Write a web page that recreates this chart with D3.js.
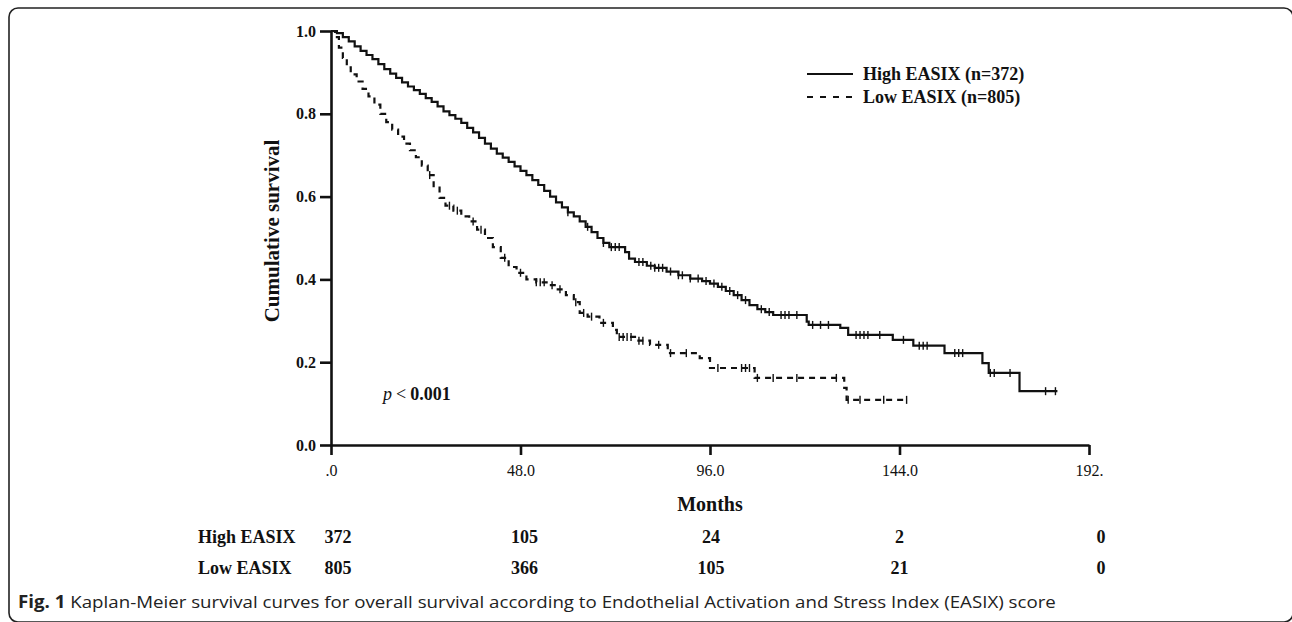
<!DOCTYPE html>
<html>
<head>
<meta charset="utf-8">
<title>Kaplan-Meier EASIX</title>
<script src="https://cdn.jsdelivr.net/npm/d3@7"></script>
<style>
    body { margin: 0; background: #fff; }
    svg { display: block; }
</style>
</head>
<body>
<div id="chart"></div>
<script>
// DATA ___________________________________________________________
// High EASIX (solid) - step points (months, survival)
const HIGH_T = [0, 1.5, 3, 4.5, 6, 7.5, 9, 10.5, 12, 13.5, 15, 16.5, 18, 19.5, 21, 22.5, 24, 25.5, 27, 28.5,
    30, 31.5, 33, 34.5, 36, 37.5, 39, 40.5, 42, 43.5, 45, 46.5, 48, 49.5, 51, 52.5, 54, 55.5, 57, 58.5,
    60, 61.5, 63, 64.5, 66, 67.5, 69, 70.5, 74.5, 75.5, 77, 80, 82, 85, 88, 91, 94, 96, 98, 100,
    102, 104, 106, 108, 110, 112, 120.5, 121, 129, 131, 142.3, 147.5, 155.4, 165, 166.6, 174.4, 184];
const HIGH_S = [1.000, 0.995, 0.985, 0.975, 0.963, 0.952, 0.942, 0.932, 0.920, 0.908, 0.897, 0.887, 0.876, 0.866, 0.857, 0.848, 0.838, 0.829, 0.818, 0.806,
    0.797, 0.788, 0.778, 0.766, 0.755, 0.742, 0.728, 0.716, 0.704, 0.694, 0.684, 0.673, 0.662, 0.652, 0.640, 0.628, 0.614, 0.600, 0.586, 0.574,
    0.562, 0.552, 0.540, 0.527, 0.514, 0.500, 0.488, 0.478, 0.466, 0.450, 0.442, 0.433, 0.428, 0.419, 0.410, 0.402, 0.396, 0.390, 0.382, 0.372,
    0.362, 0.350, 0.338, 0.328, 0.321, 0.314, 0.298, 0.290, 0.283, 0.266, 0.254, 0.240, 0.222, 0.198, 0.174, 0.130, 0.130];
const HIGH_CENSOR = [60, 65, 69, 71, 72, 73, 78, 79, 81, 82, 83, 84, 86, 88, 89, 91, 93, 95, 97, 99, 101, 103, 105,
    109, 111, 114, 115, 116, 118, 122, 124, 126, 133, 134, 135, 136, 139, 145, 149, 150, 151, 158, 159, 160,
    167, 168, 172, 181, 183.5];

// Low EASIX (dashed)
const LOW_T = [0, 1, 2, 3, 4, 5, 6.5, 8, 9.5, 11, 12.5, 14, 15.5, 17, 18.5, 20, 21.5, 23, 24.5, 26,
    27.5, 29, 31, 33, 35, 37, 39, 41, 43, 45, 47, 49.5, 52, 55, 57, 59.5, 61.5, 63, 65, 68,
    71.4, 72.4, 77, 80.8, 85.3, 93.4, 96, 107.3, 130, 130.6, 145.8];
const LOW_S = [1.000, 0.985, 0.960, 0.935, 0.912, 0.895, 0.878, 0.860, 0.842, 0.822, 0.800, 0.780, 0.762, 0.745, 0.728, 0.712, 0.695, 0.675, 0.652, 0.625,
    0.597, 0.578, 0.566, 0.552, 0.540, 0.520, 0.500, 0.478, 0.452, 0.430, 0.416, 0.400, 0.393, 0.386, 0.376, 0.362, 0.345, 0.319, 0.310, 0.295,
    0.278, 0.261, 0.252, 0.242, 0.222, 0.210, 0.186, 0.162, 0.138, 0.109, 0.109];
const LOW_CENSOR = [25, 30, 32, 36, 38, 44, 48, 52, 53, 54, 56, 58, 62, 64, 66, 69, 73, 74, 75, 76, 78, 79, 83, 86,
    90, 98, 104, 105, 106, 108, 112, 118, 128, 131, 134, 140, 145.8];

// Axis ticks
const X_TICKS = [0, 48, 96, 144, 192];
const X_TICK_LABELS = ['.0', '48.0', '96.0', '144.0', '192.'];
const Y_TICKS = [0, 0.2, 0.4, 0.6, 0.8, 1.0];
const Y_TICK_LABELS = ['0.0', '0.2', '0.4', '0.6', '0.8', '1.0'];

// Numbers at risk
const RISK_GROUPS = ['High EASIX', 'Low EASIX'];
const HIGH_RISK = [372, 105, 24, 2, 0];
const LOW_RISK = [805, 366, 105, 21, 0];

const LEGEND_LABELS = ['High EASIX (n=372)', 'Low EASIX (n=805)'];
//________________________________________________________________________________________


// CONSTANTS ___________________________________________________________
const W = 1292, H = 622;
const SERIF = '"Liberation Serif", "Times New Roman", serif';
const INK = '#111';
const RISK_DX = [7, 4, 1, 0, 12]; // the risk numbers sit a bit right of the ticks
//________________________________________________________________________________________


const svg = d3.select('#chart').append('svg')
    .attr('width', W)
    .attr('height', H)
    .style('font-family', SERIF);

// Rounded figure frame (right and bottom edges fall just outside the picture)
svg.append('rect')
    .attr('x', 9).attr('y', 8)
    .attr('width', 1284).attr('height', 614)
    .attr('rx', 9)
    .attr('fill', 'none')
    .attr('stroke', '#222')
    .attr('stroke-width', 1.6);

// Scales
const x = d3.scaleLinear().domain([0, 192]).range([331, 1089]);
const y = d3.scaleLinear().domain([0, 1]).range([445, 31]);

// X axis
const xAxis = svg.append('g')
    .attr('transform', `translate(0,${y(0)})`)
    .call(d3.axisBottom(x).tickValues(X_TICKS)
        .tickFormat(function(d, i) { return X_TICK_LABELS[i]; })
        .tickSize(10).tickSizeOuter(0).tickPadding(10));

// Y axis
const yAxis = svg.append('g')
    .attr('transform', `translate(${x(0)},0)`)
    .call(d3.axisLeft(y).tickValues(Y_TICKS)
        .tickFormat(function(d, i) { return Y_TICK_LABELS[i]; })
        .tickSize(11).tickSizeOuter(0).tickPadding(4));

svg.selectAll('.domain, .tick line')
    .attr('stroke', INK)
    .attr('stroke-width', 2.6);
xAxis.selectAll('text')
    .attr('fill', INK)
    .style('font-family', SERIF)
    .style('font-size', '16px');
yAxis.selectAll('text')
    .attr('fill', INK)
    .style('font-family', SERIF)
    .style('font-size', '16px')
    .style('font-weight', 'bold');

// Axis titles
svg.append('text')
    .attr('transform', 'translate(279,231) rotate(-90)')
    .attr('text-anchor', 'middle')
    .attr('fill', INK)
    .style('font-size', '21px')
    .style('font-weight', 'bold')
    .text('Cumulative survival');

svg.append('text')
    .attr('x', x(96)).attr('y', 511)
    .attr('text-anchor', 'middle')
    .attr('fill', INK)
    .style('font-size', '20px')
    .style('font-weight', 'bold')
    .text('Months');

// Survival curves
const line = d3.line()
    .x(function(d) { return x(d[0]); })
    .y(function(d) { return y(d[1]); })
    .curve(d3.curveStepAfter);

const highData = d3.zip(HIGH_T, HIGH_S);
const lowData = d3.zip(LOW_T, LOW_S);

svg.append('path')
    .datum(highData)
    .attr('d', line)
    .attr('fill', 'none')
    .attr('stroke', INK)
    .attr('stroke-width', 2.2);

svg.append('path')
    .datum(lowData)
    .attr('d', line)
    .attr('fill', 'none')
    .attr('stroke', INK)
    .attr('stroke-width', 2.2)
    .attr('stroke-dasharray', '6,5');

// Censor marks: short vertical ticks on the step curve
function survivalAt(times, surv, t) {
    const i = d3.bisectRight(times, t) - 1;
    return surv[Math.max(0, i)];
}

function drawCensor(times, surv, censor) {
    svg.append('g').selectAll('line')
        .data(censor)
        .enter()
        .append('line')
        .attr('x1', function(d) { return x(d); })
        .attr('x2', function(d) { return x(d); })
        .attr('y1', function(d) { return y(survivalAt(times, surv, d)) - 4; })
        .attr('y2', function(d) { return y(survivalAt(times, surv, d)) + 4; })
        .attr('stroke', INK)
        .attr('stroke-width', 1.4);
}
drawCensor(HIGH_T, HIGH_S, HIGH_CENSOR);
drawCensor(LOW_T, LOW_S, LOW_CENSOR);

// Legend
const legend = svg.append('g');
LEGEND_LABELS.forEach(function(label, i) {
    const ly = 74 + i * 23;
    legend.append('line')
        .attr('x1', 807).attr('x2', 853)
        .attr('y1', ly).attr('y2', ly)
        .attr('stroke', INK)
        .attr('stroke-width', 2)
        .attr('stroke-dasharray', i === 1 ? '6,7' : null);
    legend.append('text')
        .attr('x', 863).attr('y', ly + 6)
        .attr('fill', INK)
        .style('font-size', '18px')
        .style('font-weight', 'bold')
        .text(label);
});

// p value
const pText = svg.append('text')
    .attr('x', 383).attr('y', 400)
    .attr('fill', INK)
    .style('font-size', '18px');
pText.append('tspan').style('font-style', 'italic').text('p');
pText.append('tspan').attr('dx', 4).text('<');
pText.append('tspan').attr('dx', 4).style('font-weight', 'bold').text('0.001');

// Numbers at risk table
const riskRows = [HIGH_RISK, LOW_RISK];
const rowY = [543, 574];
riskRows.forEach(function(vals, r) {
    svg.append('text')
        .attr('x', 198).attr('y', rowY[r])
        .attr('fill', INK)
        .style('font-size', '18px')
        .style('font-weight', 'bold')
        .text(RISK_GROUPS[r]);
    svg.append('g').selectAll('text')
        .data(vals)
        .enter()
        .append('text')
        .attr('x', function(d, i) { return x(X_TICKS[i]) + RISK_DX[i]; })
        .attr('y', rowY[r])
        .attr('text-anchor', 'middle')
        .attr('fill', INK)
        .style('font-size', '18px')
        .style('font-weight', 'bold')
        .text(function(d) { return d; });
});

// Caption
const caption = svg.append('text')
    .attr('x', 0).attr('y', 0)
    .attr('fill', '#222')
    .style('font-family', '"Open Sans", "Noto Sans", sans-serif')
    .style('font-size', '17px');
caption.append('tspan').style('font-weight', 'bold').text('Fig. 1');
caption.append('tspan')
    .text(' Kaplan-Meier survival curves for overall survival according to Endothelial Activation and Stress Index (EASIX) score');
const capW = caption.node().getComputedTextLength();
caption.attr('transform', `translate(18,608) scale(${1039 / capW},1)`);
</script>
</body>
</html>
